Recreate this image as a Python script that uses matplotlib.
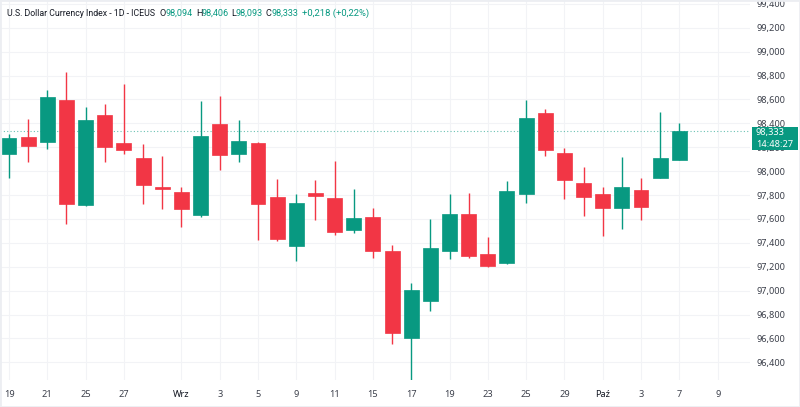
import matplotlib
matplotlib.use("Agg")
import matplotlib.pyplot as plt
import matplotlib.patches as patches

plt.rcParams["font.family"] = ["Noto Sans", "DejaVu Sans"]

GREEN = "#089981"
RED = "#F23645"
GRID = "#f2f3f6"
TEXT = "#131722"

# daily OHLC, 19 Aug .. 7 Oct (trading days)
opens = [98141, 98283, 98244, 98595, 97714, 98467, 98235, 98107, 97870, 97825,
         97635, 98392, 98141, 98233, 97783, 97373, 97819, 97777, 97507, 97618,
         97334, 96601, 96916, 97334, 97644, 97306, 97228, 97809, 98489, 98154,
         97898, 97809, 97691, 97845, 97945, 98094]
highs = [98311, 98433, 98679, 98832, 98536, 98559, 98726, 98224, 98129, 97870,
         98589, 98631, 98428, 98246, 97934, 97808, 97926, 98085, 97853, 97694,
         97382, 97066, 97597, 97806, 97819, 97451, 97917, 98595, 98520, 98191,
         98037, 97870, 98121, 97940, 98492, 98406]
lows = [97942, 98074, 98182, 97555, 97705, 98079, 98141, 97725, 97685, 97535,
        97618, 98009, 98074, 97424, 97413, 97250, 97591, 97465, 97485, 97270,
        96551, 96210, 96829, 97262, 97273, 97200, 97220, 97731, 98129, 97767,
        97627, 97459, 97516, 97591, 97940, 98093]
closes = [98275, 98210, 98618, 97722, 98425, 98202, 98177, 97884, 97848, 97683,
          98296, 98135, 98254, 97727, 97429, 97736, 97794, 97490, 97610, 97334,
          96643, 97005, 97354, 97639, 97290, 97206, 97834, 98442, 98174, 97928,
          97781, 97691, 97870, 97702, 98107, 98333]

tick_idx = [0, 2, 4, 6, 9, 11, 13, 15, 17, 19, 21, 23, 25, 27, 29, 31, 33, 35, 37]
tick_labels = ["19", "21", "25", "27", "Wrz", "3", "5", "9", "11", "15", "17",
               "19", "23", "25", "29", "Paź", "3", "7", "9"]
price_ticks = list(range(96400, 99401, 200))

last_price = 98333

W, H = 800, 407
fig = plt.figure(figsize=(W / 100, H / 100), dpi=100)
fig.patch.set_facecolor("white")
ax = fig.add_axes([0, 1 - 380 / H, 750 / W, 380 / H])
ax.set_facecolor("white")
ax.set_xlim(-0.47, 38.69)
ax.set_ylim(96252, 99432)

# grid
for t in price_ticks:
    ax.axhline(t, color=GRID, lw=0.8, zorder=0)
for t in tick_idx:
    ax.axvline(t, color=GRID, lw=0.8, zorder=0)

# candles
bw = 0.78
for i, (o, h, l, c) in enumerate(zip(opens, highs, lows, closes)):
    col = GREEN if c >= o else RED
    ax.vlines(i, l, h, color=col, lw=1, zorder=2)
    lo = min(o, c)
    ht = max(abs(c - o), 12)
    ax.add_patch(patches.Rectangle((i - bw / 2, lo), bw, ht, facecolor=col,
                                   edgecolor=col, lw=0.5, zorder=3))

# last price dotted line
ax.axhline(last_price, color=GREEN, lw=0.8, ls=(0, (1, 2)), alpha=0.6, zorder=1)

for s in ax.spines.values():
    s.set_visible(False)

ax.yaxis.tick_right()
ax.set_yticks(price_ticks)
ax.set_yticklabels([f"{t:,}" for t in price_ticks])
ax.tick_params(axis="y", length=0, pad=5, labelsize=6.6, labelcolor="#3b3f4a")
ax.set_xticks(tick_idx)
ax.set_xticklabels(tick_labels)
ax.tick_params(axis="x", length=0, pad=7, labelsize=6.6, labelcolor="#3b3f4a")
for lab in ax.get_xticklabels():
    if lab.get_text() in ("Wrz", "Paź"):
        lab.set_fontweight("bold")
        lab.set_color(TEXT)

# last price label on the scale
fig.patches.append(patches.Rectangle((752 / W, 1 - 150 / H), 46 / W, 23 / H,
                                     transform=fig.transFigure, facecolor=GREEN,
                                     edgecolor="none", zorder=5))
fig.text(756 / W, 1 - 133 / H, "98,333", color="white", fontsize=6.6,
         va="center", ha="left", zorder=6)
fig.text(756 / W, 1 - 144.5 / H, "14:48:27", color="white", fontsize=6.6,
         va="center", ha="left", zorder=6)

# legend header: (left px, right px, text, colour); font size fitted to width
pieces = [(7, 156, "U.S. Dollar Currency Index - 1D - ICEUS", TEXT),
          (160, None, "O", TEXT), (166, 193, "98,094", GREEN),
          (196, None, "H", TEXT), (202, 229, "98,406", GREEN),
          (231, None, "L", TEXT), (236, 263, "98,093", GREEN),
          (266, None, "C", TEXT), (272, 299, "98,333", GREEN),
          (302, 370, "+0,218 (+0,22%)", GREEN)]
fig.canvas.draw()
renderer = fig.canvas.get_renderer()
for x0, x1, txt, col in pieces:
    t = fig.text(x0 / W, 1 - 13 / H, txt, color=col, fontsize=6.6,
                 family=["Roboto", "DejaVu Sans"], va="center", ha="left")
    if x1 is not None:
        w = t.get_window_extent(renderer).width
        t.set_fontsize(min(6.8, 6.6 * (x1 - x0) / w))

# outer frame
fig.patches.append(patches.Rectangle((0, 0), 1, 1, transform=fig.transFigure,
                                     facecolor="none", edgecolor="#eceef2",
                                     lw=2, zorder=10))

fig.savefig("out.png", dpi=100)
